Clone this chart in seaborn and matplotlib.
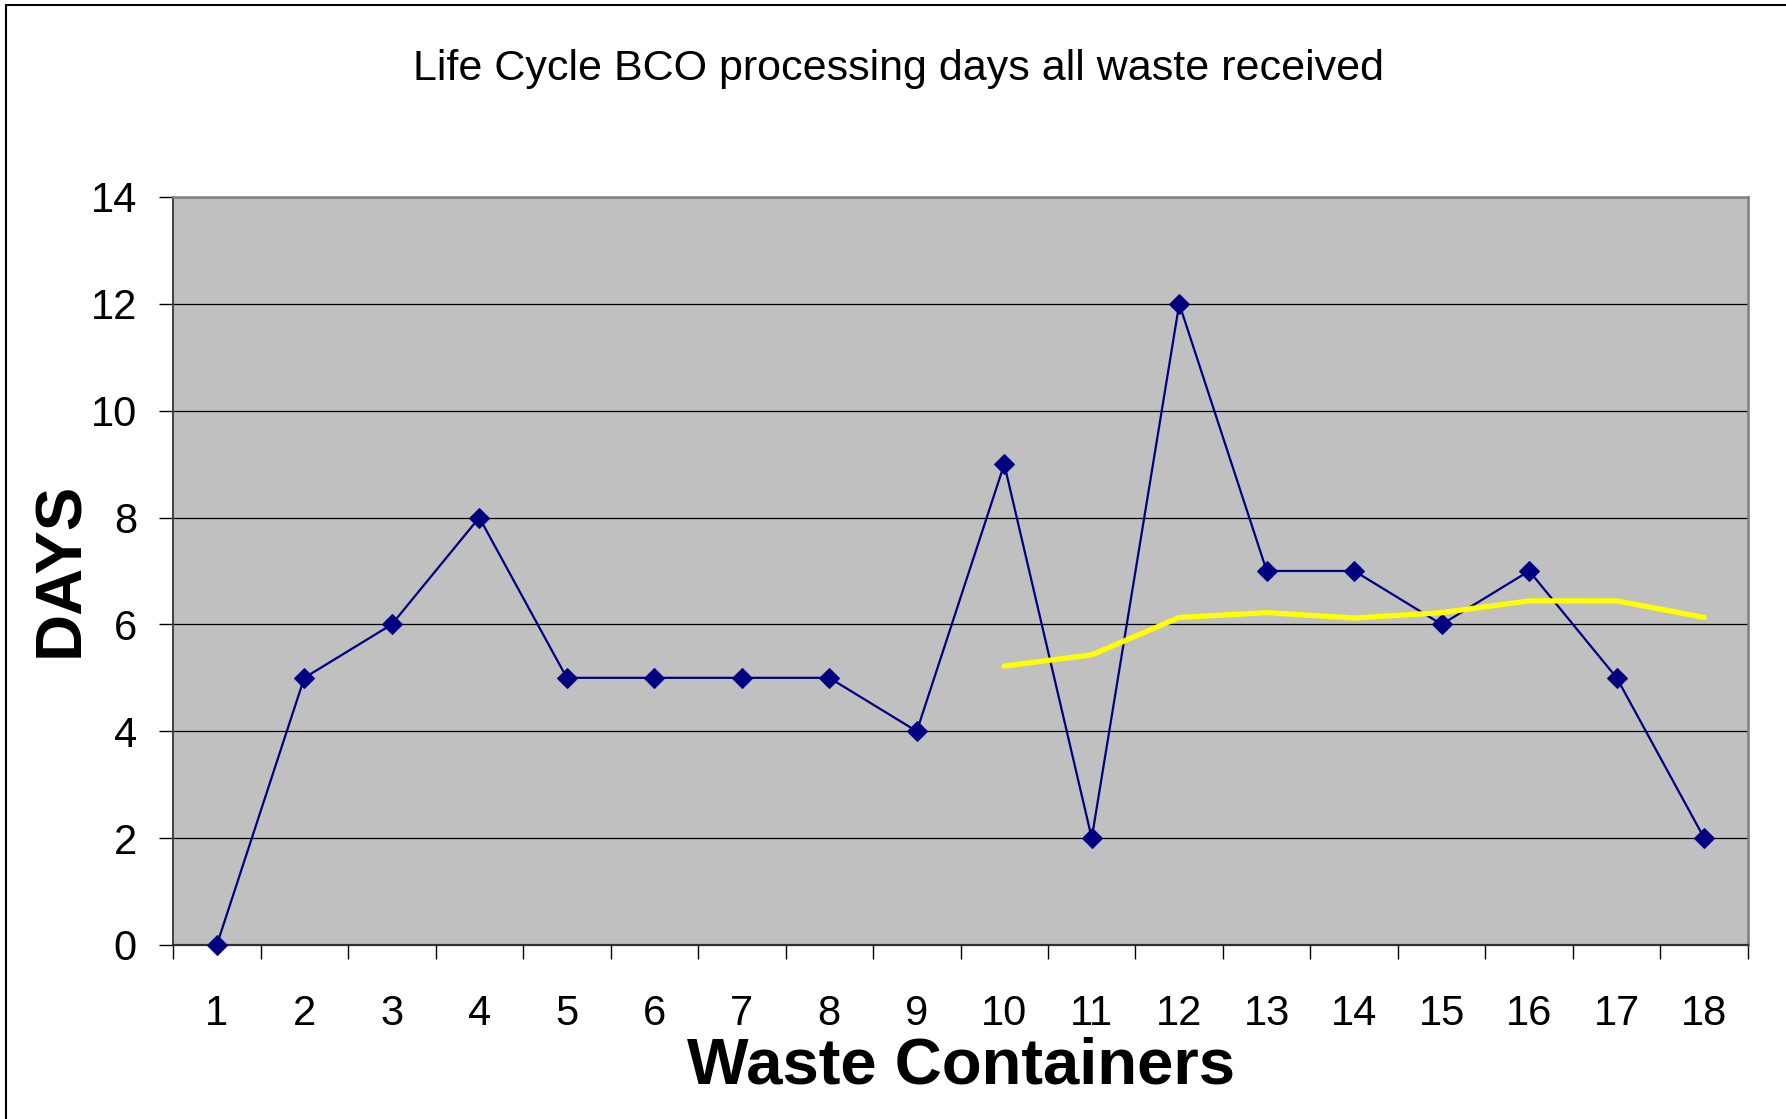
import matplotlib
matplotlib.use("Agg")
import matplotlib.pyplot as plt
from matplotlib.lines import Line2D
from matplotlib.ticker import FixedLocator
import pandas as pd
import seaborn as sns

# ── Data ──────────────────────────────────────────────────────────────────────
containers = list(range(1, 19))
days = [0, 5, 6, 8, 5, 5, 5, 5, 4, 9, 2, 12, 7, 7, 6, 7, 5, 2]
trend_x = list(range(10, 19))
trend_days = [5.22, 5.43, 6.13, 6.22, 6.12, 6.22, 6.44, 6.44, 6.13]
y_ticks = [0, 2, 4, 6, 8, 10, 12, 14]

TITLE = "Life Cycle BCO processing days all waste received"
XLABEL = "Waste Containers"
YLABEL = "DAYS"

# ── Style ─────────────────────────────────────────────────────────────────────
sns.set_style("white")
plt.rcParams["font.family"] = ["Liberation Sans", "DejaVu Sans"]
plt.rcParams["text.color"] = "black"
plt.rcParams["xtick.color"] = "black"
plt.rcParams["ytick.color"] = "black"

df = pd.DataFrame({"container": containers, "days": days})
trend = pd.DataFrame({"container": trend_x, "days": trend_days})

fig = plt.figure(figsize=(17.86, 11.19), dpi=100)
ax = fig.add_axes([0.0969, 0.1555, 0.9787 - 0.0969, 0.824 - 0.1555])
ax.set_facecolor("#C0C0C0")

sns.lineplot(data=df, x="container", y="days", ax=ax, color="#000080",
             linewidth=1.6, marker="D", markersize=10.5,
             markeredgecolor="#000080", zorder=3, clip_on=False)
sns.lineplot(data=trend, x="container", y="days", ax=ax, color="#FFFF00",
             linewidth=3.8, zorder=4)

ax.set_xlim(0.5, 18.5)
ax.set_ylim(0, 14)

# y axis
ax.set_yticks(y_ticks)
ax.tick_params(axis="y", left=True, direction="out", length=10, width=1.0,
               color="black", labelcolor="black", pad=16, labelsize=30)
ax.yaxis.grid(True, color="black", linewidth=0.9)
ax.set_axisbelow(True)

# x axis: labels at categories, ticks between categories
ax.set_xticks(containers)
ax.xaxis.set_minor_locator(FixedLocator([c + 0.5 for c in range(0, 19)]))
ax.tick_params(axis="x", which="major", bottom=True, length=0, pad=35,
               labelsize=30, labelcolor="black")
ax.tick_params(axis="x", which="minor", bottom=True, direction="out",
               length=10, width=1.0, color="black")
ax.xaxis.grid(False)

for side in ["top", "right"]:
    ax.spines[side].set_color("#808080")
    ax.spines[side].set_linewidth(1.8)
ax.spines["left"].set_color("#404040")
ax.spines["bottom"].set_color("#303030")
ax.spines["left"].set_linewidth(1.4)
ax.spines["bottom"].set_linewidth(1.6)

ax.set_xlabel("")
ax.set_ylabel("")
fig.text(0.503, 0.938, TITLE, ha="center", va="center", fontsize=31)
fig.text(0.538, 0.047, XLABEL, ha="center", va="center", fontsize=47,
         fontweight="bold")
fig.text(0.034, 0.491, YLABEL, ha="center", va="center", fontsize=47,
         fontweight="bold", rotation=90)

# outer frame (left and top edges visible)
fig.add_artist(Line2D([0.0031, 0.0031], [0.0, 0.9955], transform=fig.transFigure,
                      color="black", linewidth=1.5))
fig.add_artist(Line2D([0.0031, 1.0], [0.9955, 0.9955], transform=fig.transFigure,
                      color="black", linewidth=1.5))

fig.savefig("out.png", dpi=100, facecolor="white")
